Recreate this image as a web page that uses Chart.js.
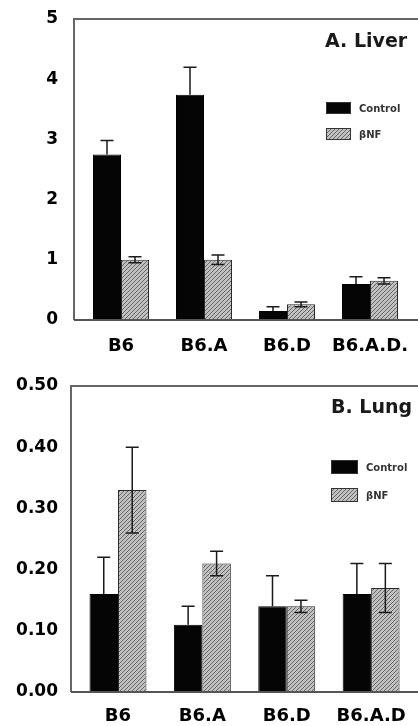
<!DOCTYPE html>
<html>
<head>
<meta charset="utf-8">
<script src="https://cdn.jsdelivr.net/npm/chart.js@4.4.0/dist/chart.umd.min.js"></script>
<style>
  html, body { margin: 0; padding: 0; background: #fff; }
  .panel { position: absolute; left: 0; width: 418px; height: 363px; }
  #liverBox { top: 0; }
  #lungBox { top: 363px; }
</style>
</head>
<body>
<div class="panel" id="liverBox"><canvas id="liver" width="418" height="363"></canvas></div>
<div class="panel" id="lungBox"><canvas id="lung" width="418" height="363"></canvas></div>
<script>
// Strains (categories)
const liverGroups = ['B6', 'B6.A', 'B6.D', 'B6.A.D.'];
const lungGroups = ['B6', 'B6.A', 'B6.D', 'B6.A.D'];

// A. Liver
const liverControl = [2.75, 3.74, 0.15, 0.60];
const liverControlErr = [0.23, 0.46, 0.07, 0.12];
const liverSnf = [1.00, 1.00, 0.26, 0.65];
const liverSnfErr = [0.05, 0.08, 0.04, 0.05];

// B. Lung
const lungControl = [0.16, 0.11, 0.14, 0.16];
const lungControlErr = [0.06, 0.03, 0.05, 0.05];
const lungSnf = [0.33, 0.21, 0.14, 0.17];
const lungSnfErr = [0.07, 0.02, 0.01, 0.04];

// y tick labels
const liverTicks = ['0', '1', '2', '3', '4', '5'];
const lungTicks = ['0.00', '0.10', '0.20', '0.30', '0.40', '0.50'];

const seriesNames = ['Control', 'βNF'];

// gray diagonal hatch used for the βNF bars
function makeHatch() {
  const c = document.createElement('canvas');
  c.width = 4; c.height = 4;
  const g = c.getContext('2d');
  g.fillStyle = '#c0c0c0';
  g.fillRect(0, 0, 4, 4);
  g.strokeStyle = '#686868';
  g.lineWidth = 1;
  g.beginPath();
  g.moveTo(0, 4); g.lineTo(4, 0);
  g.moveTo(-1, 1); g.lineTo(1, -1);
  g.moveTo(3, 5); g.lineTo(5, 3);
  g.stroke();
  return g.createPattern(c, 'repeat');
}
const hatch = makeHatch();

const FONT = 'DejaVu Sans';

// error bars: control only upward, βNF both ways
const errorBars = {
  id: 'errorBars',
  afterDatasetsDraw(chart) {
    const ctx = chart.ctx;
    const y = chart.scales.y;
    ctx.save();
    ctx.strokeStyle = '#1a1a1a';
    ctx.lineWidth = 1.5;
    chart.data.datasets.forEach((ds, di) => {
      const meta = chart.getDatasetMeta(di);
      meta.data.forEach((bar, i) => {
        const v = ds.data[i];
        const e = ds.errors[i];
        const top = y.getPixelForValue(v + e);
        const bot = ds.bothWays ? y.getPixelForValue(v - e) : bar.y;
        const cap = 6.5;
        ctx.beginPath();
        ctx.moveTo(bar.x, bot); ctx.lineTo(bar.x, top);
        ctx.moveTo(bar.x - cap, top); ctx.lineTo(bar.x + cap, top);
        if (ds.bothWays) { ctx.moveTo(bar.x - cap, bot); ctx.lineTo(bar.x + cap, bot); }
        ctx.stroke();
      });
    });
    ctx.restore();
  }
};

// plot frame, panel title and the small legend inside the plot
const decor = {
  id: 'decor',
  afterDraw(chart, args, opts) {
    const ctx = chart.ctx;
    const a = chart.chartArea;
    const w = chart.width;
    ctx.save();
    ctx.lineWidth = 2;
    ctx.strokeStyle = '#666';
    ctx.beginPath();
    ctx.moveTo(w, a.top); ctx.lineTo(opts.frameLeft, a.top); ctx.lineTo(opts.frameLeft, a.bottom);
    ctx.stroke();
    ctx.strokeStyle = '#555';
    ctx.beginPath();
    ctx.moveTo(opts.frameLeft, a.bottom); ctx.lineTo(w, a.bottom);
    ctx.stroke();

    ctx.fillStyle = '#1a1a1a';
    ctx.font = 'bold 19px ' + FONT;
    ctx.textBaseline = 'alphabetic';
    ctx.fillText(opts.title, opts.titleX, opts.titleY);

    chart.data.datasets.forEach((ds, i) => {
      const bx = opts.legX, by = opts.legY + i * opts.legGap;
      ctx.fillStyle = ds.backgroundColor;
      ctx.fillRect(bx, by, opts.boxW, opts.boxH);
      ctx.strokeStyle = '#333';
      ctx.lineWidth = 1;
      ctx.strokeRect(bx + 0.5, by + 0.5, opts.boxW - 1, opts.boxH - 1);
      ctx.fillStyle = '#333';
      ctx.font = 'bold 10px ' + FONT;
      ctx.textBaseline = 'middle';
      ctx.fillText(ds.label, bx + opts.boxW + 8, by + opts.boxH / 2 + 1);
    });
    ctx.restore();
  }
};

function makeChart(id, groups, control, controlErr, snf, snfErr, ticks, cfg) {
  return new Chart(document.getElementById(id), {
    type: 'bar',
    data: {
      labels: groups,
      datasets: [
        {
          label: seriesNames[0],
          data: control,
          errors: controlErr,
          bothWays: false,
          backgroundColor: '#050505',
          borderColor: '#000',
          borderWidth: 1
        },
        {
          label: seriesNames[1],
          data: snf,
          errors: snfErr,
          bothWays: true,
          backgroundColor: hatch,
          borderColor: '#2a2a2a',
          borderWidth: 1
        }
      ]
    },
    options: {
      responsive: false,
      animation: false,
      layout: { padding: { top: cfg.top, right: cfg.right, left: 0, bottom: 0 } },
      datasets: { bar: { categoryPercentage: 0.675, barPercentage: 1.0 } },
      plugins: {
        legend: { display: false },
        tooltip: { enabled: false },
        decor: cfg.decor
      },
      scales: {
        // label gaps come from an invisible tick length so they do not pad the chart area
        x: {
          grid: { display: false, drawTicks: true, tickLength: cfg.xGap },
          border: { display: false },
          ticks: {
            autoSkip: false,
            maxRotation: 0,
            padding: 0,
            color: '#000',
            font: { family: FONT, weight: 'bold', size: 18 }
          },
          afterFit: s => { s.height = cfg.xHeight; }
        },
        y: {
          min: 0,
          max: cfg.yMax,
          grid: { display: false, drawTicks: true, tickLength: cfg.yGap },
          border: { display: false },
          ticks: {
            stepSize: cfg.yStep,
            padding: 0,
            color: '#000',
            font: { family: FONT, weight: 'bold', size: 17 },
            callback: (v, i) => ticks[i]
          },
          afterFit: s => { s.width = cfg.yWidth; }
        }
      }
    },
    plugins: [errorBars, decor]
  });
}

makeChart('liver', liverGroups, liverControl, liverControlErr, liverSnf, liverSnfErr, liverTicks, {
  top: 19, right: 6.5, xHeight: 43, xGap: 16, yWidth: 79.5, yGap: 21.5, yMax: 5, yStep: 1,
  decor: { frameLeft: 74, title: 'A. Liver', titleX: 325, titleY: 47, legX: 326, legY: 102, legGap: 26, boxW: 25, boxH: 12 }
});

makeChart('lung', lungGroups, lungControl, lungControlErr, lungSnf, lungSnfErr, lungTicks, {
  top: 23, right: 4.7, xHeight: 34, xGap: 14, yWidth: 75.8, yGap: 17.8, yMax: 0.5, yStep: 0.1,
  decor: { frameLeft: 71, title: 'B. Lung', titleX: 331, titleY: 50, legX: 331, legY: 97, legGap: 28, boxW: 27, boxH: 14 }
});
</script>
</body>
</html>
